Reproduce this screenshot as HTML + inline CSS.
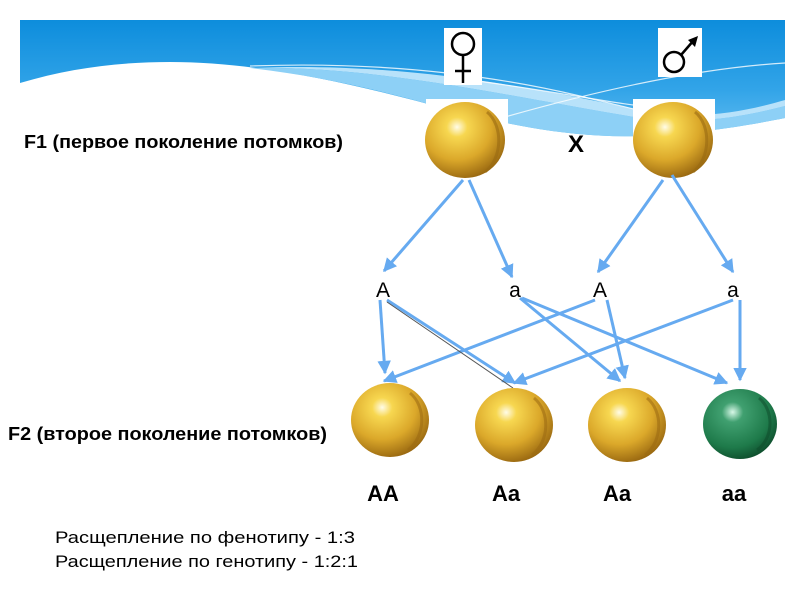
<!DOCTYPE html>
<html><head><meta charset="utf-8"><style>
html,body{margin:0;padding:0;background:#fff;width:800px;height:600px;overflow:hidden}
svg{display:block}
text{font-family:"Liberation Sans",sans-serif}
</style></head><body>
<svg width="800" height="600" viewBox="0 0 800 600" xmlns="http://www.w3.org/2000/svg">
<defs>
<linearGradient id="bg" x1="0" y1="0" x2="0" y2="1">
<stop offset="0" stop-color="#0d8ddc"/><stop offset="0.6" stop-color="#32a4e8"/><stop offset="1" stop-color="#60bcf0"/>
</linearGradient>
<radialGradient id="gold" cx="0.4" cy="0.33" r="0.72">
<stop offset="0" stop-color="#fffce8"/><stop offset="0.18" stop-color="#f7d750"/><stop offset="0.6" stop-color="#dba82a"/><stop offset="1" stop-color="#93620e"/>
</radialGradient>
<radialGradient id="green" cx="0.4" cy="0.33" r="0.72">
<stop offset="0" stop-color="#d8f8e8"/><stop offset="0.2" stop-color="#40a070"/><stop offset="0.7" stop-color="#1e7a4a"/><stop offset="1" stop-color="#0d4a2a"/>
</radialGradient>
<marker id="ar" viewBox="0 0 10 10" refX="9" refY="5" markerWidth="4.5" markerHeight="4.5" orient="auto">
<path d="M0,0 L10,5 L0,10 z" fill="#66aaf0"/>
</marker>
</defs>
<path d="M20,20 L785,20 L785,118 C750,125 700,134 640,136 C580,138 520,128 450,110 C360,85 260,62 170,62 C120,62 70,68 20,83 Z" fill="url(#bg)"/>
<path d="M250,68 C380,66 500,95 640,118 C700,126 750,115 785,106 L785,118 C750,125 700,134 640,136 C580,138 520,128 450,110 C380,90 320,76 250,68 Z" fill="#8dd0f6"/>
<path d="M250,68 C400,62 520,85 640,110 C700,122 750,110 785,100 L785,106 C750,115 700,126 640,118 C500,95 380,66 250,68Z" fill="#b8e2fa"/>
<path d="M250,66 C360,62 470,70 580,96 C620,106 650,112 640,112" fill="none" stroke="#fff" stroke-width="1.2" opacity="0.8"/>
<path d="M505,117 C600,90 700,68 785,63" fill="none" stroke="#fff" stroke-width="1.2" opacity="0.8"/>
<path d="M470,80 C560,92 620,105 660,108" fill="none" stroke="#fff" stroke-width="1.2" opacity="0.8"/>
<rect x="444" y="28" width="38" height="57" fill="#fff"/>
<circle cx="463" cy="44" r="11" fill="none" stroke="#000" stroke-width="2.5"/>
<line x1="463" y1="55" x2="463" y2="83" stroke="#000" stroke-width="2.5"/>
<line x1="455" y1="71" x2="471" y2="71" stroke="#000" stroke-width="2.5"/>
<rect x="658" y="28" width="44" height="49" fill="#fff"/>
<circle cx="674" cy="62" r="10" fill="none" stroke="#000" stroke-width="2.5"/>
<line x1="681" y1="55" x2="694" y2="40" stroke="#000" stroke-width="2.5"/>
<path d="M698,36 L688,40 L695,47 Z" fill="#000"/>
<rect x="426" y="99" width="82" height="40" fill="#fff"/>
<rect x="633" y="99" width="82" height="40" fill="#fff"/>
<ellipse cx="465" cy="140" rx="40" ry="38" fill="url(#gold)"/>
<ellipse cx="673" cy="140" rx="40" ry="38" fill="url(#gold)"/>
<path d="M487,112 C503,125 503,158 485,172" fill="none" stroke="#9a6a12" stroke-width="3" opacity="0.6"/>
<path d="M695,112 C711,125 711,158 693,172" fill="none" stroke="#9a6a12" stroke-width="3" opacity="0.6"/>
<text x="576" y="152" font-size="24" font-weight="bold" text-anchor="middle" fill="#000">X</text>
<text x="24" y="148" font-size="18" font-weight="bold" fill="#000" textLength="319" lengthAdjust="spacingAndGlyphs">F1 (первое поколение потомков)</text>
<g stroke="#66aaf0" stroke-width="3" fill="none" marker-end="url(#ar)">
<line x1="463" y1="180" x2="384" y2="271"/>
<line x1="469" y1="180" x2="512" y2="277"/>
<line x1="663" y1="180" x2="598" y2="272"/>
<line x1="672" y1="175" x2="733" y2="272"/>
<line x1="380" y1="300" x2="385" y2="373"/>
<line x1="387" y1="300" x2="515" y2="383"/>
<line x1="520" y1="298" x2="620" y2="381"/>
<line x1="522" y1="298" x2="727" y2="383"/>
<line x1="595" y1="300" x2="384" y2="381"/>
<line x1="607" y1="300" x2="625" y2="378"/>
<line x1="733" y1="300" x2="514" y2="383"/>
<line x1="740" y1="300" x2="740" y2="380"/>
</g>
<line x1="387" y1="302" x2="513" y2="388" stroke="#555" stroke-width="1"/>
<g font-size="21" fill="#000" text-anchor="middle">
<text x="383" y="297">A</text><text x="515" y="297">a</text><text x="600" y="297">A</text><text x="733" y="297">a</text>
</g>
<ellipse cx="390" cy="420" rx="39" ry="37" fill="url(#gold)"/>
<ellipse cx="514" cy="425" rx="39" ry="37" fill="url(#gold)"/>
<ellipse cx="627" cy="425" rx="39" ry="37" fill="url(#gold)"/>
<ellipse cx="740" cy="424" rx="37" ry="35" fill="url(#green)"/>
<g fill="none" stroke="#9a6a12" stroke-width="3" opacity="0.55">
<path d="M410,393 C426,406 426,436 408,450"/>
<path d="M534,398 C550,411 550,441 532,455"/>
<path d="M647,398 C663,411 663,441 645,455"/>
</g>
<path d="M759,398 C774,410 774,438 757,450" fill="none" stroke="#0d4a2a" stroke-width="3" opacity="0.5"/>
<text x="8" y="440" font-size="18" font-weight="bold" fill="#000" textLength="319" lengthAdjust="spacingAndGlyphs">F2 (второе поколение потомков)</text>
<g font-size="22" font-weight="bold" fill="#000" text-anchor="middle">
<text x="383" y="501">AA</text><text x="506" y="501">Aa</text><text x="617" y="501">Aa</text><text x="734" y="501">aa</text>
</g>
<text x="55" y="543" font-size="17" fill="#000" textLength="300" lengthAdjust="spacingAndGlyphs">Расщепление по фенотипу -  1:3</text>
<text x="55" y="567" font-size="17" fill="#000" textLength="303" lengthAdjust="spacingAndGlyphs">Расщепление по генотипу  - 1:2:1</text>
</svg>
</body></html>
